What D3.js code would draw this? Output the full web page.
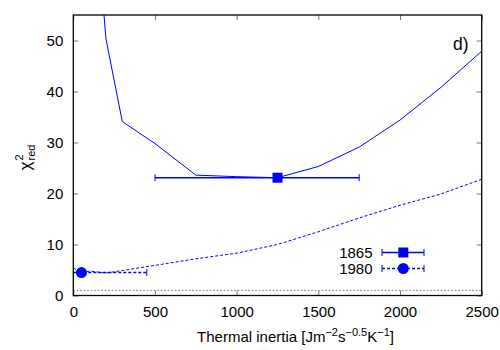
<!DOCTYPE html>
<html><head><meta charset="utf-8">
<script src="https://cdn.jsdelivr.net/npm/d3@7"></script>
<style>body{margin:0;background:#fff}svg{display:block}text{font-family:"Liberation Sans",Arial,sans-serif}</style>
</head><body>
<script>
// Data
const xTicks = [0, 500, 1000, 1500, 2000, 2500];
const yTicks = [0, 10, 20, 30, 40, 50];
const curve1865X = [100, 200, 300, 500, 750, 1000, 1250, 1500, 1750, 2000, 2250, 2500];
const curve1865Y = [89, 50.3, 34.1, 29.8, 23.6, 23.3, 23.1, 25.3, 29.1, 34.4, 40.8, 47.9];
const curve1980X = [0, 50, 100, 200, 500, 750, 1000, 1250, 1500, 1750, 2000, 2250, 2500];
const curve1980Y = [5.4, 4.4, 4.8, 4.4, 5.9, 7.2, 8.3, 10.0, 12.5, 15.2, 17.7, 19.9, 22.8];
const best1865 = {x: 1250, y: 23.1, lo: 500, hi: 1750};
const best1980 = {x: 50, y: 4.5, lo: 0, hi: 450};
const refLevel = 1;
const legendLabels = ["1865", "1980"];

const W = 500, H = 350;
const m = {l: 73.3, r: 481.7, t: 15, b: 295.5};
const svg = d3.select("body").append("svg").attr("width", W).attr("height", H);
const x = d3.scaleLinear().domain([0, 2500]).range([m.l, m.r]);
const y = d3.scaleLinear().domain([0, 55]).range([m.b, m.t]);
const blue = "#0000ff";
const FS = "15px";

svg.append("defs").append("clipPath").attr("id", "clip")
  .append("rect").attr("x", m.l).attr("y", m.t).attr("width", m.r - m.l).attr("height", m.b - m.t);

// reference line
svg.append("line").attr("x1", x(0)).attr("x2", x(2500)).attr("y1", y(refLevel)).attr("y2", y(refLevel))
  .attr("stroke", "#777").attr("stroke-width", 1).attr("stroke-dasharray", "1.5,2");

// axes (inward ticks on all sides)
const tl = 5;
const fmt = d3.format("d");
const axB = d3.axisBottom(x).tickValues(xTicks).tickFormat(fmt).tickSizeInner(-tl).tickSizeOuter(0).tickPadding(11);
const axT = d3.axisTop(x).tickValues(xTicks).tickSizeInner(-tl).tickSizeOuter(0).tickFormat("");
const axL = d3.axisLeft(y).tickValues(yTicks).tickFormat(fmt).tickSizeInner(-tl).tickSizeOuter(0).tickPadding(10);
const axR = d3.axisRight(y).tickValues(yTicks).tickSizeInner(-tl).tickSizeOuter(0).tickFormat("");
function style(g){ g.select(".domain").remove(); g.selectAll(".tick line").attr("stroke","#777").attr("stroke-width",1);
  g.selectAll(".tick text").attr("fill","#000").style("font-size",FS).style("font-family",'"Liberation Sans",Arial,sans-serif'); }
svg.append("g").attr("transform", `translate(0,${m.b})`).call(axB).call(style);
svg.append("g").attr("transform", `translate(0,${m.t})`).call(axT).call(style);
svg.append("g").attr("transform", `translate(${m.l},0)`).call(axL).call(style);
svg.append("g").attr("transform", `translate(${m.r},0)`).call(axR).call(style);

const plot = svg.append("g").attr("clip-path", "url(#clip)");
const line = d3.line().x(d => x(d[0])).y(d => y(d[1]));
plot.append("path").datum(curve1865X.map((v,i)=>[v,curve1865Y[i]])).attr("d", line)
  .attr("fill","none").attr("stroke",blue).attr("stroke-width",1);
plot.append("path").datum(curve1980X.map((v,i)=>[v,curve1980Y[i]])).attr("d", line)
  .attr("fill","none").attr("stroke",blue).attr("stroke-width",1).attr("stroke-dasharray","3,2");

function errbar(g, x1, x2, yy, dash){
  g.append("line").attr("x1",x1).attr("x2",x2).attr("y1",yy).attr("y2",yy)
    .attr("stroke",blue).attr("stroke-width",1.5).attr("stroke-dasharray", dash ? "3,2" : null);
  [x1,x2].forEach(xx => g.append("line").attr("x1",xx).attr("x2",xx).attr("y1",yy-3.5).attr("y2",yy+3.5)
    .attr("stroke",blue).attr("stroke-width",1));
}
errbar(plot, x(best1865.lo), x(best1865.hi), y(best1865.y), false);
plot.append("rect").attr("x", x(best1865.x)-5).attr("y", y(best1865.y)-5).attr("width",10).attr("height",10).attr("fill",blue);
errbar(plot, x(best1980.lo), x(best1980.hi), y(best1980.y), true);
plot.append("circle").attr("cx", x(best1980.x)).attr("cy", y(best1980.y)).attr("r",5.5).attr("fill",blue);

// frame
svg.append("rect").attr("x",m.l).attr("y",m.t).attr("width",m.r-m.l).attr("height",m.b-m.t)
  .attr("fill","none").attr("stroke","#000").attr("stroke-width",1.3);

// legend
const lg = svg.append("g");
const ly = [252.5, 268.5];
legendLabels.forEach((lab,i) => {
  lg.append("text").attr("x",372.5).attr("y",ly[i]).attr("dy","0.36em").attr("text-anchor","end")
    .style("font-size",FS).text(lab);
  errbar(lg, 382, 424, ly[i], i===1);
  if(i===0) lg.append("rect").attr("x",403.3-5).attr("y",ly[i]-5).attr("width",10).attr("height",10).attr("fill",blue);
  else lg.append("circle").attr("cx",403.3).attr("cy",ly[i]).attr("r",5.5).attr("fill",blue);
});

// panel label
svg.append("text").attr("x",468.5).attr("y",49.5).attr("text-anchor","end").style("font-size","17.5px").text("d)");

// x label
const xl = svg.append("text").attr("x",295.5).attr("y",342).attr("text-anchor","middle").style("font-size",FS);
xl.append("tspan").text("Thermal inertia [Jm");
xl.append("tspan").attr("dy",-6).style("font-size","11px").text("−2");
xl.append("tspan").attr("dy",6).text("s");
xl.append("tspan").attr("dy",-6).style("font-size","11px").text("−0.5");
xl.append("tspan").attr("dy",6).text("K");
xl.append("tspan").attr("dy",-6).style("font-size","11px").text("−1");
xl.append("tspan").attr("dy",6).text("]");

// y label
const yl = svg.append("text").attr("transform","translate(31,170.5) rotate(-90)").attr("text-anchor","start").style("font-size","17px");
yl.append("tspan").text("χ");
yl.append("tspan").attr("dx",1).attr("dy",-8).style("font-size","11px").text("2");
yl.append("tspan").attr("dx",-6).attr("dy",12).style("font-size","11px").text("red");
</script>
</body></html>
